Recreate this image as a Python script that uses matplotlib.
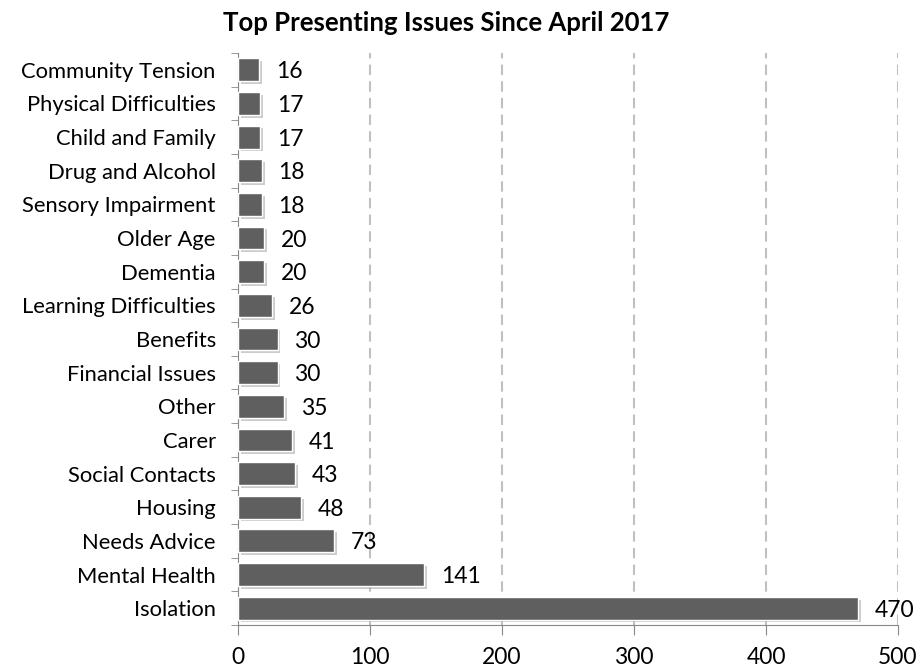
import matplotlib
matplotlib.use("Agg")
import matplotlib.pyplot as plt
import matplotlib.patheffects as pe

categories = ["Community Tension", "Physical Difficulties", "Child and Family", "Drug and Alcohol",
              "Sensory Impairment", "Older Age", "Dementia", "Learning Difficulties", "Benefits",
              "Financial Issues", "Other", "Carer", "Social Contacts", "Housing", "Needs Advice",
              "Mental Health", "Isolation"]
values = [16, 17, 17, 18, 18, 20, 20, 26, 30, 30, 35, 41, 43, 48, 73, 141, 470]
xticks = [0, 100, 200, 300, 400, 500]

plt.rcParams['font.family'] = ['Lato', 'DejaVu Sans']

fig = plt.figure(figsize=(9.23, 6.68), dpi=100)
ax = fig.add_axes([238/923, 1-625/668, (898-238)/923, (625-53)/668])

n = len(categories)
ys = list(range(n - 1, -1, -1))
bars = ax.barh(ys, values, height=0.68, color="#5f5f5f", edgecolor="white", linewidth=1.0, zorder=3)
for b in bars:
    b.set_path_effects([pe.SimplePatchShadow(offset=(2, -2), shadow_rgbFace="#aaaaaa", alpha=0.6), pe.Normal()])

for y, v in zip(ys, values):
    ax.annotate(str(v), (v, y), xytext=(12, -1.5), textcoords="offset points", va="center", ha="left",
                fontsize=16.5, color="black")

ax.set_xlim(0, 500)
ax.set_ylim(-0.5, n - 0.5)
ax.set_xticks(xticks)
ax.set_xticklabels([str(t) for t in xticks], fontsize=16.5)
ax.set_yticks(ys)
ax.set_yticklabels(categories, fontsize=15.8)
ax.set_yticks([i - 0.5 for i in range(n + 1)], minor=True)
ax.tick_params(axis="y", which="major", length=0, pad=16)
ax.tick_params(axis="y", which="minor", length=5, color="#888888")
ax.tick_params(axis="x", length=7, color="#888888", pad=9)

ax.grid(axis="x", linestyle=(0, (5, 3)), color="#c0c0c0", linewidth=1.5, zorder=0)
for s in ["top", "right"]:
    ax.spines[s].set_visible(False)
ax.spines["left"].set_color("#888888")
ax.spines["bottom"].set_color("#888888")

fig.text(446/923, 1-23/668, "Top Presenting Issues Since April 2017", fontsize=18.5, fontweight="bold",
         ha="center", va="center")

fig.savefig("out.png", dpi=100)
